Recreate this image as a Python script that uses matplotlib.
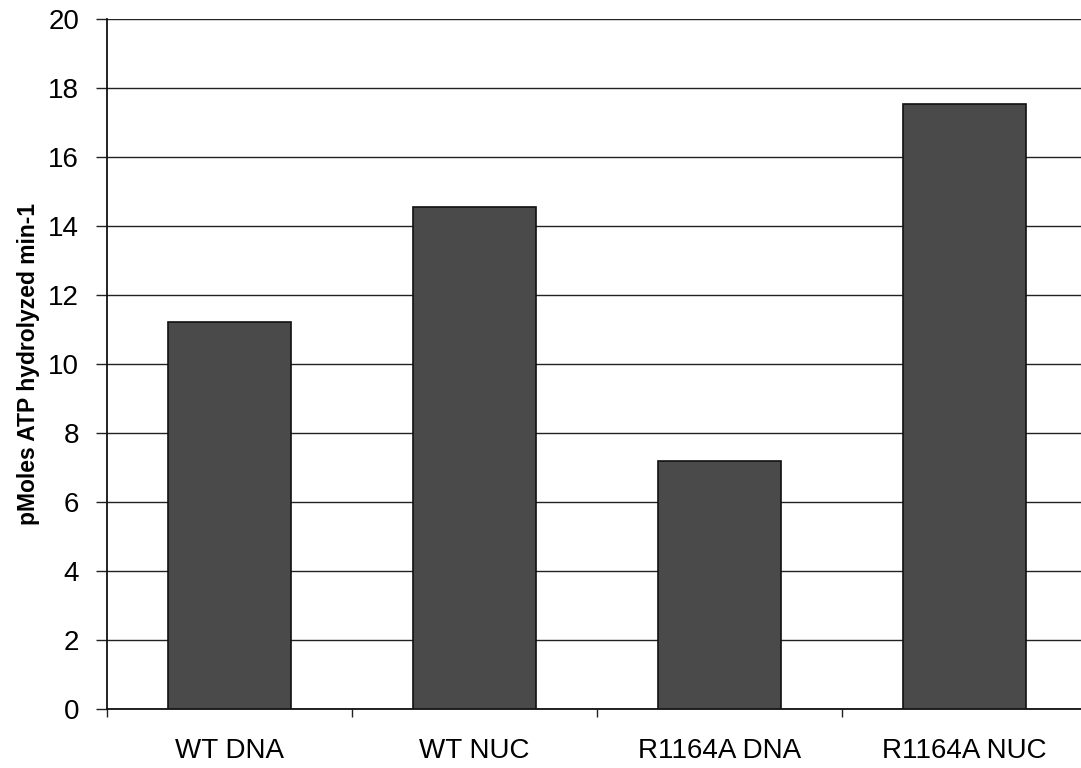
import numpy as np
import matplotlib.pyplot as plt

# Data
categories = ['WT DNA', 'WT NUC', 'R1164A DNA', 'R1164A NUC']
rates = [11.23, 14.55, 7.2, 17.55]  # pMoles ATP hydrolyzed min-1

plt.rcParams['font.family'] = ['Liberation Sans', 'DejaVu Sans']

fig = plt.figure(figsize=(10.81, 7.68), dpi=100)
ax = fig.add_axes([107 / 1081, 1 - 709 / 768, 980 / 1081, 690 / 768])

x = np.arange(len(categories))
ax.bar(x, rates, width=0.505, color='#4a4a4a', edgecolor='#111111', linewidth=1.2, zorder=3)

ax.set_xlim(-0.5, len(categories) - 0.5)
ax.set_ylim(0, 20)
ax.set_yticks(np.arange(0, 21, 2))
ax.yaxis.grid(True, color='#222222', linewidth=1.0, zorder=0)

# category labels centred under bars, boundary ticks between categories
ax.set_xticks(x)
ax.set_xticklabels(categories, fontsize=20)
ax.tick_params(axis='x', which='major', length=0, pad=21)
ax.set_xticks(np.arange(-0.5, len(categories)), minor=True)
ax.tick_params(axis='x', which='minor', length=6, width=1, direction='out', color='#222222')

ax.tick_params(axis='y', labelsize=20, length=8, width=1, direction='out', pad=12, color='#222222')

for side in ['top', 'right']:
    ax.spines[side].set_visible(False)
ax.spines['left'].set_color('#111111')
ax.spines['bottom'].set_color('#111111')
ax.spines['left'].set_linewidth(1.3)
ax.spines['bottom'].set_linewidth(1.3)

ax.set_ylabel('pMoles ATP hydrolyzed min-1', fontsize=16.5, fontweight='bold')
ax.yaxis.set_label_coords(-0.068, 0.5)

fig.savefig('out.png', dpi=100)
